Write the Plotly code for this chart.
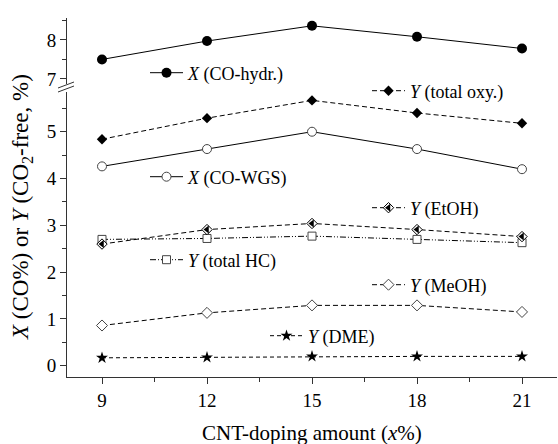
import plotly.graph_objects as go

x_vals = [9, 12, 15, 18, 21]
co_hydr = [7.50, 7.97, 8.36, 8.08, 7.78]
total_oxy = [4.84, 5.29, 5.67, 5.40, 5.18]
co_wgs = [4.26, 4.63, 5.00, 4.63, 4.20]
etoh = [2.60, 2.91, 3.04, 2.91, 2.76]
total_hc = [2.70, 2.72, 2.77, 2.70, 2.63]
meoh = [0.86, 1.13, 1.29, 1.29, 1.15]
dme = [0.17, 0.18, 0.20, 0.20, 0.20]

FONT = "'Liberation Serif', 'Times New Roman', Times, serif"
W, H = 558, 444
ML, MR, MT, MB = 67, 1, 18, 67
PW = W - ML - MR
PH = H - MT - MB
BLK = "#000000"
GRY = "#444444"
AX = "#333333"


def px_x(px):
    return (px - ML) / PW


def px_y(py):
    return (H - MB - py) / PH


fig = go.Figure()

fig.add_trace(go.Scatter(x=x_vals, y=co_hydr, yaxis="y2", mode="lines+markers",
                         name="<i>X</i> (CO-hydr.)",
                         line=dict(color=BLK, width=1),
                         marker=dict(symbol="circle", size=10, color=BLK),
                         legend="legend"))
fig.add_trace(go.Scatter(x=x_vals, y=total_oxy, mode="lines+markers",
                         name="<i>Y</i> (total oxy.)",
                         line=dict(color=BLK, width=1, dash="5px,3px"),
                         marker=dict(symbol="diamond", size=8, color=BLK),
                         legend="legend2"))
fig.add_trace(go.Scatter(x=x_vals, y=co_wgs, mode="lines+markers",
                         name="<i>X</i> (CO-WGS)",
                         line=dict(color=BLK, width=1),
                         marker=dict(symbol="circle", size=9, color="white",
                                     line=dict(color=GRY, width=1)),
                         legend="legend3"))
fig.add_trace(go.Scatter(x=x_vals, y=total_hc, mode="lines+markers",
                         name="<i>Y</i> (total HC)",
                         line=dict(color=BLK, width=1, dash="6px,2px,1px,2px,1px,2px"),
                         marker=dict(symbol="square", size=8, color="white",
                                     line=dict(color=GRY, width=1)),
                         legend="legend5"))
fig.add_trace(go.Scatter(x=x_vals, y=etoh, mode="lines+markers",
                         name="<i>Y</i> (EtOH)",
                         line=dict(color=BLK, width=1, dash="5px,3px"),
                         marker=dict(symbol="diamond", size=8, color="white",
                                     line=dict(color=BLK, width=1)),
                         legend="legend4"))
fig.add_trace(go.Scatter(x=x_vals, y=etoh, mode="markers", name=" ",
                         marker=dict(symbol="triangle-left", size=7, color=BLK),
                         legend="legend8"))
fig.add_trace(go.Scatter(x=x_vals, y=meoh, mode="lines+markers",
                         name="<i>Y</i> (MeOH)",
                         line=dict(color=BLK, width=1, dash="5px,3px"),
                         marker=dict(symbol="diamond", size=8.5, color="white",
                                     line=dict(color=GRY, width=1)),
                         legend="legend6"))
fig.add_trace(go.Scatter(x=x_vals, y=dme, mode="lines+markers",
                         name="<i>Y</i> (DME)",
                         line=dict(color=BLK, width=1, dash="4px,3px"),
                         marker=dict(symbol="star", size=9, color=BLK),
                         legend="legend7"))

leg_common = dict(xref="paper", yref="paper", xanchor="left", yanchor="middle",
                  bgcolor="rgba(0,0,0,0)", borderwidth=0, itemwidth=33,
                  font=dict(family=FONT, size=18, color=BLK))


def leg(px, py):
    d = dict(leg_common)
    d.update(x=px_x(px), y=px_y(py))
    return d


L = 145
R = 367
fig.update_layout(
    legend=leg(L, 73),
    legend2=leg(R, 91),
    legend3=leg(L, 177),
    legend4=leg(R, 208),
    legend8=leg(R, 208),
    legend5=leg(L, 260),
    legend6=leg(R, 285),
    legend7=leg(265, 336),
)

axis_common = dict(showline=True, linecolor=AX, linewidth=1,
                   ticks="outside", ticklen=6, tickcolor=AX, tickwidth=1,
                   showgrid=False, zeroline=False,
                   tickfont=dict(family=FONT, size=19, color=BLK))

fig.update_layout(
    width=W, height=H,
    font=dict(family=FONT),
    margin=dict(l=ML, r=MR, t=MT, b=MB, autoexpand=False),
    paper_bgcolor="white", plot_bgcolor="white",
    showlegend=True,
    xaxis=dict(range=[8, 22], tick0=0, dtick=3,
               minor=dict(tick0=0, dtick=1.5, ticklen=4, ticks="outside", tickcolor=AX),
               **axis_common),
    yaxis=dict(domain=[0, 0.794], range=[-0.24, 5.85], tick0=0, dtick=1,
               minor=dict(tick0=0, dtick=0.5, ticklen=4, ticks="outside", tickcolor=AX),
               **axis_common),
    yaxis2=dict(domain=[0.816, 1.0], range=[6.87, 8.56], tick0=0, dtick=1,
                minor=dict(tick0=0, dtick=0.5, ticklen=4, ticks="outside", tickcolor=AX),
                anchor="x", **axis_common),
)

# break marks on y axis
for y0, y1 in [(88, 82), (92, 86)]:
    fig.add_shape(type="line", xref="paper", yref="paper",
                  x0=px_x(58), x1=px_x(74), y0=px_y(y0), y1=px_y(y1),
                  line=dict(color=AX, width=1))

fig.add_annotation(text="<i>X</i> (CO%) or <i>Y</i> (CO<sub>2</sub>-free, %)",
                   xref="paper", yref="paper", x=px_x(22), y=px_y(207),
                   textangle=-90, showarrow=False, xanchor="center", yanchor="middle",
                   font=dict(family=FONT, size=23, color=BLK))
fig.add_annotation(text="CNT-doping amount (<i>x</i>%)",
                   xref="paper", yref="paper", x=0.5, y=px_y(433),
                   showarrow=False, xanchor="center", yanchor="middle",
                   font=dict(family=FONT, size=21, color=BLK))

fig.write_html("out.html")
